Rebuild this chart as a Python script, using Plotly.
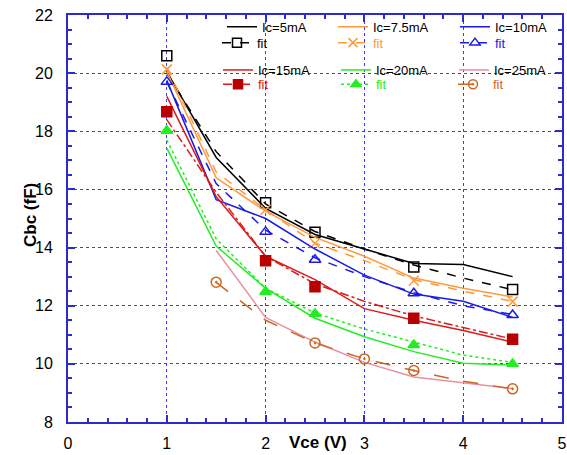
import plotly.graph_objects as go

# ---------------- data ----------------
vce = [1, 1.5, 2, 2.5, 3, 3.5, 4, 4.5]
vce25 = [1.5, 2, 2.5, 3, 3.5, 4, 4.5]

# measured (solid lines)
ic5 = [20.05, 17.1, 15.35, 14.45, 13.95, 13.45, 13.42, 13.0]
ic7_5 = [20.05, 16.4, 15.25, 14.35, 13.7, 12.95, 12.6, 12.3]
ic10 = [19.75, 15.65, 15.0, 13.95, 13.05, 12.4, 12.15, 11.6]
ic15 = [19.2, 15.75, 13.7, 12.9, 11.9, 11.5, 11.15, 10.75]
ic20 = [17.42, 14.05, 12.6, 11.57, 10.93, 10.42, 10.02, 9.96]
ic25 = [13.9, 11.6, 10.75, 10.05, 9.55, 9.35, 9.15]

# fit lines
fit5 = [20.0, 17.3, 15.5, 14.55, 13.95, 13.4, 12.95, 12.55]
fit7_5 = [20.2, 16.6, 15.3, 14.15, 13.55, 12.9, 12.5, 12.15]
fit10 = [19.7, 16.2, 14.6, 13.65, 13.0, 12.45, 12.0, 11.7]
fit15 = [18.4, 15.9, 13.7, 12.75, 12.15, 11.65, 11.25, 10.85]
fit20 = [17.7, 14.3, 12.6, 11.75, 11.2, 10.75, 10.3, 10.05]
fit25 = [12.8, 11.5, 10.72, 10.17, 9.77, 9.4, 9.14]

# fit markers
vce_mk = [1, 2, 2.5, 3.5, 4.5]
vce_mk25 = [1.5, 2.5, 3, 3.5, 4.5]
mk5 = [20.6, 15.54, 14.53, 13.33, 12.56]
mk7_5 = [20.13, 15.3, 14.15, 12.86, 12.14]
mk10 = [19.7, 14.54, 13.58, 12.43, 11.68]
mk15 = [18.67, 13.55, 12.65, 11.57, 10.85]
mk20 = [18.02, 12.48, 11.72, 10.65, 10.0]
mk25 = [12.81, 10.72, 10.17, 9.77, 9.14]

labels = ["Ic=5mA", "Ic=7.5mA", "Ic=10mA", "Ic=15mA", "Ic=20mA", "Ic=25mA"]

# ---------------- styles ----------------
FONT = "Liberation Sans, Arial, sans-serif"
AX = "#2b2bd0"
GRID = "#3a3aff"

series = [
    dict(mx=vce, my=ic5, fx=vce, fy=fit5, kx=vce_mk, ky=mk5, color="#000000", mcolor="#000000",
         dash="dash", symbol="square-open", fill="#000000"),
    dict(mx=vce, my=ic7_5, fx=vce, fy=fit7_5, kx=vce_mk, ky=mk7_5, color="#ff9a3c", mcolor="#ff9a3c",
         dash="dash", symbol="x-thin-open", fill="#ff9a3c"),
    dict(mx=vce, my=ic10, fx=vce, fy=fit10, kx=vce_mk, ky=mk10, color="#1a1ae6", mcolor="#1a1ae6",
         dash="dash", symbol="triangle-up-open", fill="#1a1ae6"),
    dict(mx=vce, my=ic15, fx=vce, fy=fit15, kx=vce_mk, ky=mk15, color="#dd1a1a", mcolor="#b80000",
         dash="dashdot", symbol="square", fill="#b80000"),
    dict(mx=vce, my=ic20, fx=vce, fy=fit20, kx=vce_mk, ky=mk20, color="#22ee22", mcolor="#22ee22",
         dash="dot", symbol="triangle-up", fill="#22ee22"),
    dict(mx=vce25, my=ic25, fx=vce25, fy=fit25, kx=vce_mk25, ky=mk25, color="#e890a0", mcolor="#cc6622",
         dash="longdash", symbol="circle-open-dot", fill="#cc6622", fitcolor="#cc6622"),
]

# legend positions in window pixels (text start x, center y)
meas_pos = [(262, 26.7), (373, 26.7), (495, 26.7), (258, 70), (376, 70), (494, 70)]
fit_pos = [(257, 42.7), (373, 42.7), (495, 42.7), (258, 84.3), (376, 84.3), (493, 84.3)]

W, H = 567, 455
PL, PT, PR, PB = 68, 15, 562, 422          # plot area in window pixels
L, T, R, B = PL, PT, W - PR, H - PB
PW, PH = PR - PL, PB - PT


def lx(px):
    return (px - 40 - PL) / PW


def ly(py):
    return 1 - (py - PT) / PH


fig = go.Figure()
layout_legends = {}
n = 1
for i, s in enumerate(series):
    fitcolor = s.get("fitcolor", s["color"])
    name_m = "legend" if n == 1 else f"legend{n}"
    fig.add_trace(go.Scatter(x=s["mx"], y=s["my"], mode="lines", name=labels[i],
                             line=dict(color=s["color"], width=1.5),
                             legend=name_m, showlegend=True))
    layout_legends[name_m] = dict(x=lx(meas_pos[i][0]), y=ly(meas_pos[i][1]), xanchor="left",
                                  yanchor="middle", bgcolor="rgba(0,0,0,0)",
                                  font=dict(family=FONT, size=13, color="black"))
    n += 1
    fig.add_trace(go.Scatter(x=s["fx"], y=s["fy"], mode="lines",
                             line=dict(color=fitcolor, width=1.5, dash=s["dash"]),
                             showlegend=False))
    mline = dict(color=s["mcolor"], width=1.5)
    fig.add_trace(go.Scatter(x=s["kx"], y=s["ky"], mode="markers",
                             marker=dict(symbol=s["symbol"], size=10, color=s["fill"], line=mline),
                             showlegend=False))
    name_f = f"legend{n}"
    fig.add_trace(go.Scatter(x=[None], y=[None], mode="lines+markers",
                             name=f"<span style='color:{fitcolor}'>fit</span>",
                             line=dict(color=fitcolor, width=1.5, dash=s["dash"]),
                             marker=dict(symbol=s["symbol"], size=9, color=s["fill"], line=mline),
                             legend=name_f, showlegend=True))
    layout_legends[name_f] = dict(x=lx(fit_pos[i][0]), y=ly(fit_pos[i][1]), xanchor="left",
                                  yanchor="middle", bgcolor="rgba(0,0,0,0)",
                                  font=dict(family=FONT, size=13, color="black"))
    n += 1

axis_common = dict(
    ticks="inside", ticklen=7, tickwidth=2, tickcolor=AX,
    showline=True, linecolor=AX, linewidth=2, mirror="allticks",
    showgrid=True, gridcolor=GRID, griddash="dot", gridwidth=1,
    zeroline=False, automargin=False, ticklabeloverflow="allow",
    tickfont=dict(family=FONT, size=16, color="black"),
)

fig.update_xaxes(range=[0, 5], dtick=1, tick0=0, ticklabelstandoff=6,
                 minor=dict(dtick=0.2, ticks="inside", ticklen=4, tickwidth=1.5, tickcolor=AX, showgrid=False),
                 **axis_common)
fig.update_yaxes(range=[8, 22], dtick=2, tick0=8, ticklabelstandoff=10,
                 minor=dict(dtick=0.5, ticks="inside", ticklen=4, tickwidth=1.5, tickcolor=AX, showgrid=False),
                 **axis_common)

fig.add_annotation(text="<b>Vce (V)</b>", xref="paper", yref="paper", x=(318 - PL) / PW,
                   y=-(442 - PB) / PH, xanchor="center", yanchor="middle", showarrow=False,
                   font=dict(family=FONT, size=17, color="black"))
fig.add_annotation(text="<b>Cbc (fF)</b>", xref="paper", yref="paper", x=(30 - PL) / PW, y=ly(215),
                   xanchor="center", yanchor="middle", textangle=-90, showarrow=False,
                   font=dict(family=FONT, size=17, color="black"))

fig.update_layout(width=W, height=H, margin=dict(l=L, r=R, t=T, b=B, autoexpand=False),
                  plot_bgcolor="white", paper_bgcolor="white",
                  font=dict(family=FONT), **layout_legends)

fig.write_html("out.html", config={"displayModeBar": False},
               post_script="document.body.style.margin='0';document.body.style.overflow='hidden';")
